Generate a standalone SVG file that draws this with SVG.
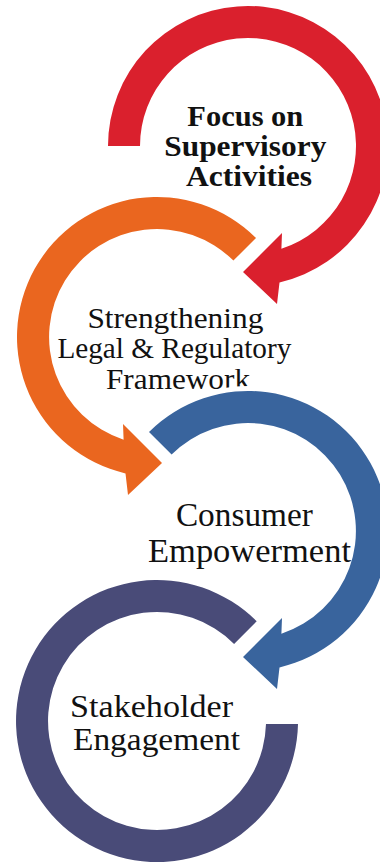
<svg xmlns="http://www.w3.org/2000/svg" width="380" height="862" viewBox="0 0 380 862">
  <style>
    .ring { stroke: #ffffff; stroke-width: 10; paint-order: stroke; stroke-linejoin: miter; }
    .red { fill: #DA202D; }
    .orange { fill: #EA661F; }
    .blue { fill: #39649D; }
    .purple { fill: #494B78; }
    .label { font-family: "Liberation Serif", "Times New Roman", serif; fill: #111111; text-anchor: middle; }
    .bold { font-weight: bold; }
  </style>
  <rect x="0" y="0" width="380" height="862" fill="#ffffff"/>

  <!-- circular arrow: supervisory activities -->
  <g id="focus-supervisory">
    <path class="ring red" d="M 108,146 A 140 140 0 1 1 279.5,282.4 L 277,304 L 243,272 L 282,233 L 281.4,248.7 A 108 108 0 1 0 140,146 Z"/>
    <text class="label bold" font-size="29.5">
      <tspan x="249" y="126" textLength="116" lengthAdjust="spacingAndGlyphs">Focus on</tspan>
      <tspan x="249" y="156" textLength="162" lengthAdjust="spacingAndGlyphs">Supervisory</tspan>
      <tspan x="249" y="186" textLength="126" lengthAdjust="spacingAndGlyphs">Activities</tspan>
    </text>
  </g>

  <!-- circular arrow: legal and regulatory framework -->
  <g id="legal-framework">
    <path class="ring orange" d="M 256,238 A 140 140 0 1 0 125.5,473.4 L 128,495 L 162,463 L 123,424 L 123.6,439.7 A 108 108 0 1 1 233.4,260.6 Z"/>
    <text class="label" font-size="29">
      <tspan x="179" y="328" textLength="176" lengthAdjust="spacingAndGlyphs">Strengthening</tspan>
      <tspan x="178" y="358" textLength="234" lengthAdjust="spacingAndGlyphs">Legal &amp; Regulatory</tspan>
      <tspan x="178" y="389" textLength="144" lengthAdjust="spacingAndGlyphs">Framework</tspan>
    </text>
  </g>

  <!-- circular arrow: consumer empowerment -->
  <g id="consumer-empowerment">
    <path class="ring blue" d="M 149,432 A 140 140 0 1 1 279.5,667.4 L 277,689 L 243,657 L 282,618 L 281.4,633.7 A 108 108 0 1 0 171.6,454.6 Z"/>
    <text class="label" font-size="33">
      <tspan x="248.5" y="526" textLength="137" lengthAdjust="spacingAndGlyphs">Consumer</tspan>
      <tspan x="249.5" y="562" textLength="203" lengthAdjust="spacingAndGlyphs">Empowerment</tspan>
    </text>
  </g>

  <!-- open ring: stakeholder engagement -->
  <g id="stakeholder-engagement">
    <path class="ring purple" d="M 256.7,621.3 A 141 141 0 1 0 298,724 L 266,724 A 109 109 0 1 1 234.1,643.9 Z"/>
    <text class="label" font-size="31.5">
      <tspan x="155.5" y="717" textLength="163" lengthAdjust="spacingAndGlyphs">Stakeholder</tspan>
      <tspan x="156.5" y="750" textLength="167" lengthAdjust="spacingAndGlyphs">Engagement</tspan>
    </text>
  </g>

  <!-- the arrows are closed shapes above; no separate connector lines -->
  <g id="connectors"></g>
</svg>
